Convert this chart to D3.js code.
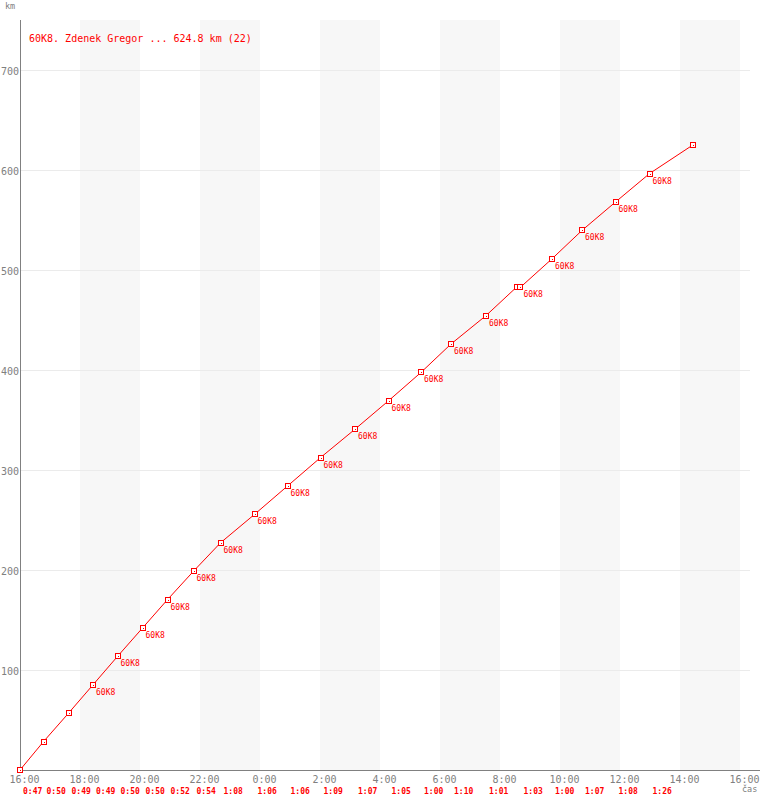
<!DOCTYPE html>
<html>
<head>
<meta charset="utf-8">
<script src="https://cdn.jsdelivr.net/npm/d3@7"></script>
<style>
  html, body { margin: 0; padding: 0; background: #fff; }
  svg { display: block; }
  text { font-family: "DejaVu Sans Mono", "Liberation Mono", monospace; }
</style>
</head>
<body>
<svg id="chart" width="760" height="800"></svg>
<script>
// ---- data ----
const title = "60K8. Zdenek Gregor ... 624.8 km (22)";
const clockTimes = ["16:00","16:47","17:37","18:26","19:15","20:05","20:55","21:47","22:41","23:49",
                    "0:55","2:01","3:10","4:17","5:22","6:22","7:32","8:33","8:41","9:44",
                    "10:44","11:51","12:59","14:25"];
const kmValues = [0, 28.4, 56.8, 85.2, 113.6, 142.0, 170.4, 198.8, 227.2, 255.6,
                  284.0, 312.4, 340.8, 369.2, 397.6, 426.0, 454.4, 482.8, 482.8, 511.2,
                  539.6, 568.0, 596.4, 624.8];
const pointLabels = ["","","","60K8","60K8","60K8","60K8","60K8","60K8","60K8",
                     "60K8","60K8","60K8","60K8","60K8","60K8","60K8","","60K8","60K8",
                     "60K8","60K8","60K8",""];
const lapTimes = ["","0:47","0:50","0:49","0:49","0:50","0:50","0:52","0:54","1:08",
                  "1:06","1:06","1:09","1:07","1:05","1:00","1:10","1:01","","1:03",
                  "1:00","1:07","1:08","1:26"];
const yTicks = [100, 200, 300, 400, 500, 600, 700];
const yAxisLabel = "km";
const xAxisLabel = "čas";

// ---- helpers ----
function parseClock(s) {
  const [h, m] = s.split(":").map(Number);
  const day = h >= 16 ? 1 : 2;
  return new Date(2000, 0, day, h, m);
}
const tStart = new Date(2000, 0, 1, 16, 0);
const tEnd = new Date(2000, 0, 2, 16, 0);

const points = clockTimes.map((t, i) => ({
  t: parseClock(t), km: kmValues[i], label: pointLabels[i], lap: lapTimes[i]
}));

const svg = d3.select("#chart");
const pLeft = 20, pRight = 740, pTop = 20, pBottom = 770;
const axisGray = "#808080";

const x = d3.scaleTime().domain([tStart, tEnd]).range([pLeft, pRight]);
const y = d3.scaleLinear().domain([0, 750]).range([pBottom, pTop]);

const xTicks = d3.timeHour.every(2).range(tStart, d3.timeMinute.offset(tEnd, 1));
const fmt = d3.timeFormat("%-H:%M");

// background bands (every other 2-hour interval)
const bands = [];
for (let i = 1; i + 1 < xTicks.length; i += 2) bands.push([xTicks[i], xTicks[i + 1]]);
svg.append("g").selectAll("rect").data(bands).join("rect")
  .attr("x", d => x(d[0])).attr("y", pTop)
  .attr("width", d => x(d[1]) - x(d[0])).attr("height", pBottom - pTop)
  .attr("fill", "#f7f7f7");

// horizontal gridlines
svg.append("g").selectAll("line").data(yTicks).join("line")
  .attr("x1", pLeft).attr("x2", 750)
  .attr("y1", d => Math.round(y(d)) + 0.5).attr("y2", d => Math.round(y(d)) + 0.5)
  .attr("stroke", "#ebebeb").attr("stroke-width", 1)
  .attr("shape-rendering", "crispEdges");

// axes
const yAxis = svg.append("g").attr("transform", `translate(${pLeft},0)`)
  .call(d3.axisLeft(y).tickValues(yTicks).tickSize(0).tickPadding(1));
yAxis.select(".domain").attr("d", `M0.5,${pTop}V${pBottom}`).attr("stroke", axisGray)
  .attr("shape-rendering", "crispEdges");
yAxis.selectAll("text").attr("fill", axisGray).attr("font-size", 10)
  .attr("font-family", "DejaVu Sans Mono").attr("dy", "0.45em");

const xAxis = svg.append("g").attr("transform", `translate(0,${pBottom})`)
  .call(d3.axisBottom(x).tickValues(xTicks).tickFormat(fmt).tickSize(0).tickPadding(0));
xAxis.select(".domain").attr("d", `M${pLeft},0.5H760`).attr("stroke", axisGray)
  .attr("shape-rendering", "crispEdges");
xAxis.selectAll("text").attr("fill", axisGray).attr("font-size", 10)
  .attr("font-family", "DejaVu Sans Mono").attr("dx", 4).attr("y", 13).attr("dy", 0);

// axis titles
svg.append("text").attr("x", 5).attr("y", 9).text(yAxisLabel)
  .attr("fill", axisGray).attr("font-size", 8.5);
svg.append("text").attr("x", 742).attr("y", 792).text(xAxisLabel)
  .attr("fill", axisGray).attr("font-size", 8.5);

// line
svg.append("path").datum(points)
  .attr("d", d3.line().x(d => x(d.t)).y(d => y(d.km)))
  .attr("fill", "none").attr("stroke", "#ff0000").attr("stroke-width", 1);

// markers
const mk = svg.append("g").selectAll("g").data(points).join("g")
  .attr("transform", d => `translate(${Math.round(x(d.t))},${Math.round(y(d.km))})`);
mk.append("rect").attr("x", -2.5).attr("y", -2.5).attr("width", 5).attr("height", 5)
  .attr("fill", "#fff").attr("stroke", "#ff0000").attr("stroke-width", 1)
  .attr("shape-rendering", "crispEdges");
mk.append("rect").attr("x", -0.5).attr("y", -0.5).attr("width", 1).attr("height", 1)
  .attr("fill", "#ff0000").attr("shape-rendering", "crispEdges");

// point labels
svg.append("g").selectAll("text").data(points.filter(d => d.label)).join("text")
  .attr("x", d => x(d.t) + 3).attr("y", d => y(d.km) + 10)
  .text(d => d.label).attr("fill", "#ff0000").attr("font-size", 8);

// lap time labels (start of each lap + 3px)
const laps = points.map((d, i) => ({ text: d.lap, from: i > 0 ? points[i - 1].t : null }))
  .filter(d => d.text);
svg.append("g").selectAll("text").data(laps).join("text")
  .attr("x", d => x(d.from) + 3).attr("y", 794)
  .text(d => d.text).attr("fill", "#ff0000").attr("font-size", 8).attr("font-weight", "bold");

// title
svg.append("text").attr("x", 29).attr("y", 42).text(title)
  .attr("fill", "#ff0000").attr("font-size", 10);
</script>
</body>
</html>
